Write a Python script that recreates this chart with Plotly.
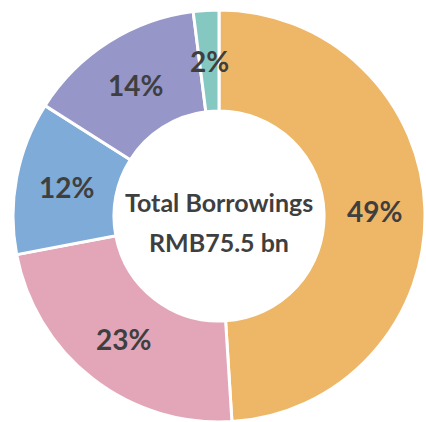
import math
import plotly.graph_objects as go

# Borrowings mix (percent of total), clockwise from 12 o'clock
segments = ["Segment A", "Segment B", "Segment C", "Segment D", "Segment E"]
shares = [49, 23, 12, 14, 2]
slice_colors = ["#EEB767", "#E2A6B8", "#7FABD9", "#9696C9", "#84C8C1"]

center_lines = ["Total Borrowings", "RMB75.5 bn"]

W, H = 426, 422
TEXT = "#3F3F3F"
FONT = "Lato"
HOLE = 0.51

dom_x = [12 / W, 1.0]
dom_y = [0.0, 1 - 10 / H]

fig = go.Figure(
    go.Pie(
        labels=segments,
        values=shares,
        sort=False,
        direction="clockwise",
        rotation=0,
        hole=HOLE,
        marker=dict(colors=slice_colors, line=dict(color="white", width=3)),
        textinfo="none",
        showlegend=False,
        hoverinfo="label+percent",
        domain=dict(x=dom_x, y=dom_y),
    )
)

# ring geometry in pixels (pie is centred in its domain, radius = half the shorter side)
dw = (dom_x[1] - dom_x[0]) * W
dh = (dom_y[1] - dom_y[0]) * H
r_out = min(dw, dh) / 2
cx = (dom_x[0] + dom_x[1]) / 2 * W
cy = (1 - (dom_y[0] + dom_y[1]) / 2) * H
r_mid = r_out * (1 + HOLE) / 2

# percentage labels at the middle of each slice's arc
total = sum(shares)
cum = 0
for v in shares:
    theta = 2 * math.pi * (cum + v / 2) / total
    cum += v
    px = cx + r_mid * math.sin(theta)
    py = cy - r_mid * math.cos(theta)
    fig.add_annotation(
        x=px / W, y=1 - py / H, xref="paper", yref="paper",
        text=f"{v}%", showarrow=False,
        xanchor="center", yanchor="middle",
        font=dict(family=FONT, size=28, color=TEXT, weight="bold"),
    )

# centre caption
for line, dy in zip(center_lines, (-14, 26)):
    fig.add_annotation(
        x=cx / W, y=1 - (cy + dy) / H, xref="paper", yref="paper",
        text=line, showarrow=False,
        xanchor="center", yanchor="middle",
        font=dict(family=FONT, size=25, color=TEXT, weight="bold"),
    )

fig.update_layout(
    width=W,
    height=H,
    margin=dict(l=0, r=0, t=0, b=0),
    paper_bgcolor="white",
    plot_bgcolor="white",
)

fig.write_html("out.html")
